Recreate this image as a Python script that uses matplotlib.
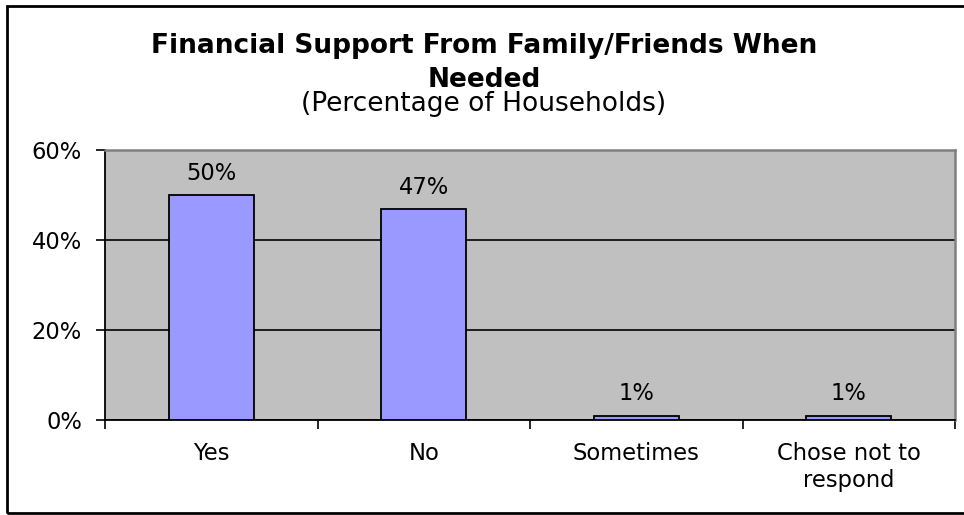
import matplotlib.pyplot as plt
from matplotlib.patches import Rectangle
from matplotlib.ticker import FuncFormatter, NullFormatter
import numpy as np

plt.rcParams['font.family'] = ['DejaVu Sans']

categories = ['Yes', 'No', 'Sometimes', 'Chose not to\nrespond']
values = [50, 47, 1, 1]
yticks = [0, 20, 40, 60]

W, H = 964, 515
fs = 16.3
fs_title = 19
fig = plt.figure(figsize=(W / 100, H / 100), dpi=100)
fig.patch.set_facecolor('white')

# plot area in pixel units
left, right, top, bottom = 105, 955, 150, 420
ax = fig.add_axes([left / W, 1 - bottom / H, (right - left) / W, (bottom - top) / H])
ax.set_facecolor('#C0C0C0')

x = np.arange(len(categories))
ax.bar(x, values, width=0.4, color='#9999FF', edgecolor='black', linewidth=1.3, zorder=3)

for xi, v in zip(x, values):
    ax.annotate(f'{v}%', xy=(xi, v), xytext=(0, 10.8), textcoords='offset points',
                ha='center', va='baseline', fontsize=fs, zorder=4)

ax.set_xlim(-0.5, len(categories) - 0.5)
ax.set_ylim(0, 60)
ax.set_yticks(yticks)
ax.yaxis.set_major_formatter(FuncFormatter(lambda v, _: f'{v:.0f}%'))
ax.yaxis.grid(True, color='black', linewidth=1.2, zorder=1)
ax.tick_params(axis='y', length=6.5, width=1.2, labelsize=fs, pad=10, direction='out')

# category boundary ticks and centred labels
ax.set_xticks(np.arange(len(categories) + 1) - 0.5)
ax.xaxis.set_major_formatter(NullFormatter())
ax.set_xticks(x, minor=True)
ax.set_xticklabels(categories, minor=True, fontsize=fs)
ax.tick_params(axis='x', which='major', length=6.5, width=1.2, direction='out')
ax.tick_params(axis='x', which='minor', length=0, pad=16)

for s in ['left', 'bottom']:
    ax.spines[s].set_color('black')
    ax.spines[s].set_linewidth(1.3)
for s in ['top', 'right']:
    ax.spines[s].set_color('#808080')
    ax.spines[s].set_linewidth(1.8)

cx = 484 / W
fig.text(cx, 1 - 53 / H, 'Financial Support From Family/Friends When',
         ha='center', va='baseline', fontsize=fs_title, fontweight='bold')
fig.text(cx, 1 - 87 / H, 'Needed',
         ha='center', va='baseline', fontsize=fs_title, fontweight='bold')
fig.text(cx, 1 - 111 / H, '(Percentage of Households)',
         ha='center', va='baseline', fontsize=fs_title)

# chart frame
fig.patches.append(Rectangle((7 / W, 2 / H), 1.0, (H - 8) / H, transform=fig.transFigure,
                             fill=False, edgecolor='black', linewidth=2, zorder=10))

fig.savefig('out.png', dpi=100)
